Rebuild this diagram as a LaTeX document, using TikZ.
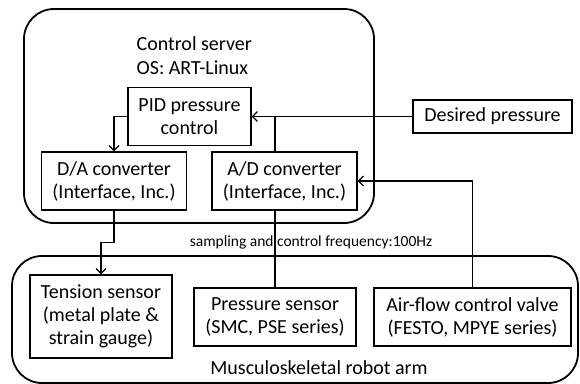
\documentclass[tikz,border=0pt]{standalone}
\usepackage{fontspec}
\setmainfont{Carlito}
\usetikzlibrary{arrows.meta}
\tikzset{
  unit/.style={draw, line width=1.2pt, inner sep=0pt, align=center,
    font=\fontsize{20}{23}\selectfont},
  group/.style={draw, line width=1.8pt, rounded corners=30pt}
}
\begin{document}
\begin{tikzpicture}[x=1pt,y=-1pt,>={Straight Barb[length=5pt,width=10pt]},line width=1.2pt]
  \useasboundingbox (0,0) rectangle (580,383);

  % Group boxes
  \draw[group] (24,9) rectangle (374,223);
  \draw[group] (12,256) rectangle (578,383);

  \node[anchor=north west, align=left, inner sep=0pt, font=\fontsize{20}{24}\selectfont]
    (srv) at (136,36) {Control server\\OS: ART-Linux};
  \node[font=\fontsize{20}{23}\selectfont] (arm) at (319,368) {Musculoskeletal robot arm};
  \node[font=\fontsize{15.5}{18}\selectfont] (freq) at (311,242) {sampling and control frequency:100Hz};

  % Unit nodes
  \node[unit, minimum width=123pt, minimum height=58pt] (pid) at (189.5,116.5) {PID pressure\\control};
  \node[unit, minimum width=145pt, minimum height=58pt] (da) at (114,181) {D/A converter\\(Interface, Inc.)};
  \node[unit, minimum width=145pt, minimum height=58pt] (ad) at (284.5,181) {A/D converter\\(Interface, Inc.)};
  \node[unit, minimum width=159pt, minimum height=33pt] (des) at (492.5,116.5) {Desired pressure};
  \node[unit, minimum width=142pt, minimum height=83pt] (ten) at (101,316.5) {Tension sensor\\(metal plate \&\\strain gauge)};
  \node[unit, minimum width=162pt, minimum height=58pt] (ps) at (275,317) {Pressure sensor\\(SMC, PSE series)};
  \node[unit, minimum width=197pt, minimum height=58pt] (air) at (472.5,317) {Air-flow control valve\\(FESTO, MPYE series)};
  \coordinate (jn) at (275,116.5);

  % Connectors
  \draw[->] (pid.west) -| (da.north);
  \draw[->] (des) -- (pid);
  \draw (ps.north) -- (ps.north |- ad.south);
  \draw (jn |- ad.north) -- (jn);
  \draw[->] (air.north) |- (ad.east);
  \draw[->] (da.south) -- ++(0,32) -| (ten.north);
\end{tikzpicture}
\end{document}
